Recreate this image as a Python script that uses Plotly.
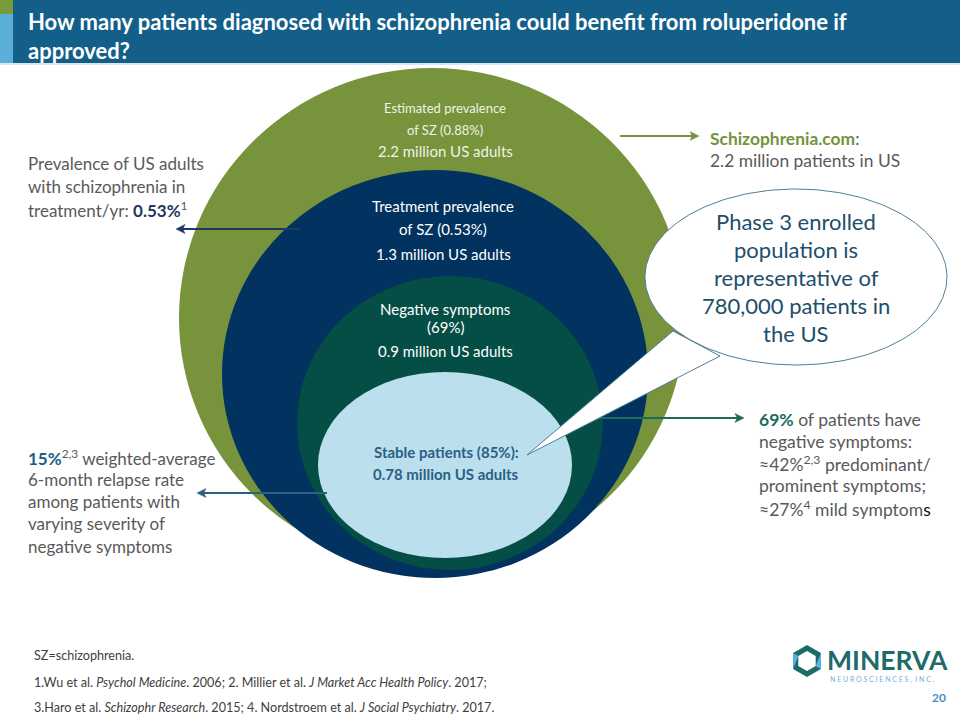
import plotly.graph_objects as go
import numpy as np

# ---------------- content ----------------
title_lines = ["How many patients diagnosed with schizophrenia could benefit from roluperidone if",
               "approved?"]

ring_labels = {
    "estimated": ["Estimated prevalence", "of SZ (0.88%)", "2.2 million US adults"],
    "treatment": ["Treatment prevalence", "of SZ (0.53%)", "1.3 million US adults"],
    "negative": ["Negative symptoms", "(69%)", "0.9 million US adults"],
    "stable": ["Stable patients (85%):", "0.78 million US adults"],
}
left_top = ["Prevalence of US adults", "with schizophrenia in",
            "treatment/yr: <b><span style='color:#1f3864'>0.53%</span></b><sup>1</sup>"]
left_bottom = ["<b><span style='color:#215f82'>15%</span></b><sup>2,3</sup> weighted-average",
               "6-month relapse rate", "among patients with", "varying severity of",
               "negative symptoms"]
right_top = ["<b><span style='color:#76923c'>Schizophrenia.com</span></b>:", "2.2 million patients in US"]
right_bottom = ["<b><span style='color:#1e6b5e'>69%</span></b> of patients have",
                "negative symptoms:", "≈42%<sup>2,3</sup> predominant/",
                "prominent symptoms;", "≈27%<sup>4</sup> mild symptom<span style='color:#111'>s</span>"]
bubble_lines = ["Phase 3 enrolled", "population is", "representative of",
                "780,000 patients in", "the US"]
footnotes = ["SZ=schizophrenia.",
             "1.Wu et al. <i>Psychol Medicine</i>. 2006; 2. Millier et al. <i>J Market Acc Health Policy</i>. 2017;",
             "3.Haro et al. <i>Schizophr Research</i>. 2015; 4. Nordstroem et al. <i>J Social Psychiatry</i>. 2017."]
page_number = "20"

# ---------------- styles ----------------
FONT = "Lato"
GRAY = "#595959"
C_GREEN = "#77933c"
C_NAVY = "#02325f"
C_DKGREEN = "#054e45"
C_LTBLUE = "#bcdfee"
C_HEADER = "#135f8a"

fig = go.Figure()
shapes = []
ann = []


def ellipse(cx, cy, rx, ry, color):
    shapes.append(dict(type="circle", xref="x", yref="y", x0=cx - rx, x1=cx + rx,
                       y0=cy - ry, y1=cy + ry, fillcolor=color,
                       line=dict(color=color, width=0), layer="below"))


def rect(x0, y0, x1, y1, color):
    shapes.append(dict(type="rect", xref="x", yref="y", x0=x0, x1=x1, y0=y0, y1=y1,
                       fillcolor=color, line=dict(width=0), layer="below"))


def txt(x, y, s, size=17, color=GRAY, anchor="left", bold=False, family=FONT):
    if bold:
        s = "<b>" + s + "</b>"
    ann.append(dict(x=x, y=y, xref="x", yref="y", text=s, showarrow=False,
                    xanchor=anchor, yanchor="middle", align="left" if anchor == "left" else "center",
                    font=dict(family=family, size=size, color=color)))


def arrow(x_from, x_to, y, color):
    d = 1 if x_to > x_from else -1
    head = 9
    shapes.append(dict(type="line", xref="x", yref="y", x0=x_from, x1=x_to - d * head * 0.6,
                       y0=y, y1=y, line=dict(color=color, width=2), layer="below"))
    shapes.append(dict(type="path", xref="x", yref="y",
                       path=f"M {x_to},{y} L {x_to - d * head},{y - 4.5} L {x_to - d * head * 0.75},{y} "
                            f"L {x_to - d * head},{y + 4.5} Z",
                       fillcolor=color, line=dict(color=color, width=0.5), layer="below"))


# header
rect(0, 0, 960, 63, C_HEADER)
rect(0, 0, 13, 14, "#7a9a3a")
rect(0, 14, 13, 63, "#5aafd8")
rect(0, 63, 960, 65, "#d9e6ee")
txt(26, 36, "<br>".join(title_lines), size=22, color="white", bold=True)

# nested populations
ellipse(432, 318, 253, 250, C_GREEN)
ellipse(435, 374, 213, 204, C_NAVY)
ellipse(450, 423, 153, 147, C_DKGREEN)
ellipse(445, 465, 127, 93, C_LTBLUE)

# arrows
arrow(620, 699, 136, C_GREEN)
arrow(300, 176, 229, "#1f3864")
arrow(580, 744, 418, "#1e6b5e")
arrow(327, 197, 493, "#2b6281")

# speech bubble (scatter traces sit above the 'below' shapes)
bub_cx, bub_cy, bub_rx, bub_ry = 796, 277, 151, 88
tail = [(673, 331), (527, 455), (720, 356)]
t = np.linspace(0, 2 * np.pi, 240)
fig.add_trace(go.Scatter(x=[p[0] for p in tail] + [tail[0][0]], y=[p[1] for p in tail] + [tail[0][1]],
                         mode="lines", fill="toself", fillcolor="white",
                         line=dict(color="#4e7f95", width=1), hoverinfo="skip", showlegend=False))
fig.add_trace(go.Scatter(x=bub_cx + bub_rx * np.cos(t), y=bub_cy + bub_ry * np.sin(t),
                         mode="lines", fill="toself", fillcolor="white",
                         line=dict(color="#4e7f95", width=1), hoverinfo="skip", showlegend=False))

# ring labels
lab_c = "#eef2e6"
txt(445, 108, ring_labels["estimated"][0], 13, lab_c, "center")
txt(445, 130, ring_labels["estimated"][1], 13, lab_c, "center")
txt(445, 151, ring_labels["estimated"][2], 15, lab_c, "center")
txt(443, 206, ring_labels["treatment"][0], 15, "white", "center")
txt(443, 229, ring_labels["treatment"][1], 15, "white", "center")
txt(443, 254, ring_labels["treatment"][2], 15, "white", "center")
txt(445, 309, ring_labels["negative"][0], 15, "white", "center")
txt(445, 327, ring_labels["negative"][1], 15, "white", "center")
txt(445, 351, ring_labels["negative"][2], 15, "white", "center")
txt(446, 452, ring_labels["stable"][0], 15, "#2a6084", "center", bold=True)
txt(446, 474, ring_labels["stable"][1], 15, "#2a6084", "center", bold=True)

# side texts
for i, s in enumerate(left_top):
    txt(26, 163 + 23 * i, s, 17)
for i, s in enumerate(left_bottom):
    txt(26, 457 + 22.3 * i, s, 17)
for i, s in enumerate(right_top):
    txt(708, 138 + 22 * i, s, 17.4)
for i, s in enumerate(right_bottom):
    txt(757, 419 + 22.3 * i, s, 17.5)
for i, s in enumerate(bubble_lines):
    txt(796, 221 + 28.2 * i, s, 22, "#1d4e6b", "center")

# footnotes
for y, s in zip([655, 682, 707], footnotes):
    txt(32, y, s, 12.6, "#404040")

# logo
cx, cy, R, r = 807, 661, 16, 10
ang = np.deg2rad(np.arange(0, 360, 60) + 30)
outer = [(cx + R * np.cos(a), cy + R * np.sin(a)) for a in ang]
inner = [(cx + r * np.cos(a), cy + r * np.sin(a)) for a in ang[::-1]]
path = "M " + " L ".join(f"{x:.1f},{y:.1f}" for x, y in outer) + " Z M " + \
       " L ".join(f"{x:.1f},{y:.1f}" for x, y in inner) + " Z"
shapes.append(dict(type="path", path=path, xref="x", yref="y", fillcolor="#1e6b6b",
                   line=dict(width=0), layer="below"))
for k in (5, 2):
    a0, a1 = ang[k], ang[(k + 1) % 6]
    p = [(cx + R * np.cos(a0), cy + R * np.sin(a0)), (cx + R * np.cos(a1), cy + R * np.sin(a1)),
         (cx + r * np.cos(a1), cy + r * np.sin(a1))]
    shapes.append(dict(type="path", xref="x", yref="y",
                       path="M " + " L ".join(f"{x:.1f},{y:.1f}" for x, y in p) + " Z",
                       fillcolor="#5ab4e0", line=dict(width=0), layer="below"))
txt(825, 660, "MINERVA", 26.5, "#1e6b6b", bold=True)
txt(828, 679, "N E U R O S C I E N C E S ,  I N C .", 7, "#6fb4da")
txt(948, 697, page_number, 12, "#4a8fc0", "right", bold=True)

fig.update_layout(
    shapes=shapes,
    annotations=ann,
    width=960, height=720,
    margin=dict(l=0, r=0, t=0, b=0),
    paper_bgcolor="white", plot_bgcolor="white",
    xaxis=dict(range=[0, 960], visible=False, fixedrange=True),
    yaxis=dict(range=[720, 0], visible=False, fixedrange=True),
    showlegend=False,
)
fig.write_html("out.html", config={"displayModeBar": False},
               post_script="document.body.style.margin='0';document.body.style.overflow='hidden';")
